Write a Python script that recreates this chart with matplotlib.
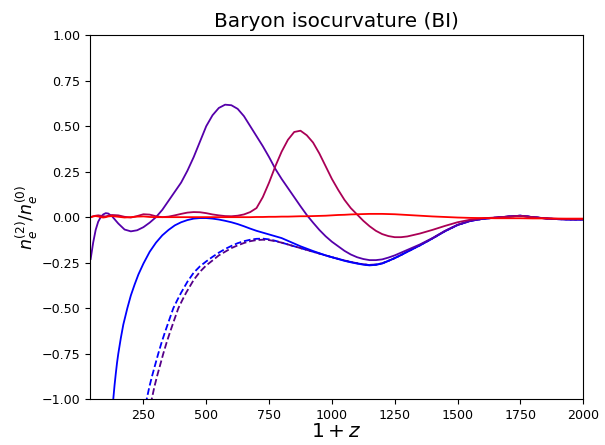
import numpy as np
import matplotlib
matplotlib.use("Agg")
import matplotlib.pyplot as plt

# ---- data ----
x_common = [40, 50, 60, 70, 80, 90, 100, 110, 125, 150, 175, 200, 225, 250, 275,
            300, 325, 350, 375, 400, 425, 450, 475, 500, 525, 550, 575, 600, 625,
            650, 675, 700, 725, 750, 775, 800, 825, 850, 875, 900, 925, 950, 975,
            1000, 1025, 1050, 1075, 1100, 1125, 1150, 1175, 1200, 1225, 1250, 1275,
            1300, 1350, 1400, 1450, 1500, 1550, 1600, 1650, 1700, 1750, 1800, 1850,
            1900, 1950, 2000]

purple_solid = [-0.23, -0.14, -0.07, -0.025, 0.0, 0.015, 0.022, 0.02, 0.005, -0.035,
                -0.068, -0.078, -0.072, -0.055, -0.03, 0.0, 0.04, 0.09, 0.14, 0.19,
                0.255, 0.33, 0.415, 0.50, 0.56, 0.60, 0.618, 0.615, 0.595, 0.555,
                0.50, 0.445, 0.39, 0.33, 0.265, 0.21, 0.16, 0.11, 0.06, 0.012, -0.03,
                -0.07, -0.105, -0.135, -0.16, -0.185, -0.205, -0.22, -0.23, -0.236,
                -0.236, -0.232, -0.222, -0.21, -0.195, -0.18, -0.15, -0.115, -0.075,
                -0.042, -0.02, -0.009, -0.003, 0.003, 0.008, 0.0, -0.007, -0.011,
                -0.013, -0.013]

crimson_solid = [0.0, 0.005, 0.008, 0.01, 0.008, 0.005, 0.004, 0.008, 0.012, 0.01,
                 0.002, -0.002, 0.006, 0.016, 0.014, 0.005, 0.0, 0.003, 0.01, 0.018,
                 0.025, 0.028, 0.027, 0.022, 0.015, 0.01, 0.006, 0.005, 0.008, 0.015,
                 0.028, 0.05, 0.11, 0.19, 0.28, 0.36, 0.425, 0.468, 0.475, 0.45,
                 0.41, 0.35, 0.28, 0.21, 0.15, 0.095, 0.05, 0.015, -0.02, -0.05,
                 -0.075, -0.093, -0.104, -0.11, -0.11, -0.106, -0.09, -0.07, -0.048,
                 -0.028, -0.014, -0.006, -0.002, 0.003, 0.007, 0.0, -0.006, -0.009,
                 -0.01, -0.01]

red_solid = [0.0, 0.004, 0.006, 0.004, 0.0, -0.002, 0.0, 0.004, 0.006, 0.002, -0.002,
             0.0, 0.003, 0.004, 0.001, 0.0, 0.0, 0.0, 0.0, 0.0, 0.0, 0.0, 0.0, 0.0,
             0.0, 0.0, 0.0, 0.0, 0.0, 0.0, 0.0, 0.001, 0.001, 0.002, 0.002, 0.003,
             0.003, 0.004, 0.005, 0.005, 0.006, 0.007, 0.008, 0.01, 0.012, 0.013,
             0.015, 0.016, 0.017, 0.018, 0.018, 0.018, 0.017, 0.016, 0.014, 0.012,
             0.008, 0.004, 0.001, -0.002, -0.004, -0.005, -0.006, -0.006, -0.006,
             -0.007, -0.007, -0.008, -0.008, -0.008]

x_blue = [125, 130, 135, 140, 145, 150, 160, 170, 186, 200, 215, 230, 250, 275, 300,
          325, 350, 375, 400, 425, 450, 475, 500, 525, 550, 575, 600, 625, 650, 675,
          700, 725, 750, 775, 800, 825, 850, 875, 900, 925, 950, 975, 1000, 1025,
          1050, 1075, 1100, 1125, 1150, 1175, 1200, 1225, 1250, 1275, 1300, 1350,
          1400, 1450, 1500, 1550, 1600, 1650, 1700, 1750, 1800, 1850, 1900, 1950, 2000]
blue_solid = [-1.08, -1.0, -0.925, -0.86, -0.80, -0.75, -0.665, -0.59, -0.50, -0.43,
              -0.37, -0.315, -0.255, -0.19, -0.14, -0.10, -0.07, -0.045, -0.028,
              -0.016, -0.008, -0.005, -0.005, -0.008, -0.013, -0.02, -0.028, -0.038,
              -0.05, -0.063, -0.075, -0.085, -0.095, -0.105, -0.115, -0.13, -0.145,
              -0.16, -0.173, -0.186, -0.198, -0.21, -0.22, -0.23, -0.24, -0.248,
              -0.255, -0.261, -0.265, -0.262, -0.255, -0.24, -0.225, -0.208, -0.19,
              -0.155, -0.117, -0.077, -0.043, -0.021, -0.009, -0.003, 0.003, 0.008,
              0.0, -0.007, -0.011, -0.013, -0.013]

x_dashed_blue = [255, 263, 274, 285, 297, 309, 322, 335, 350, 369, 385, 400, 425, 450,
                 475, 500, 525, 550, 575, 600, 625, 650, 675, 700, 725, 750, 775, 800,
                 825, 850, 875, 900, 925, 950, 975, 1000, 1025, 1050, 1075, 1100, 1125,
                 1150, 1175, 1200, 1225, 1250, 1275, 1300, 1350, 1400, 1450, 1500,
                 1550, 1600, 1650, 1700, 1750, 1800, 1850, 1900, 1950, 2000]
blue_dashed = [-1.08, -1.0, -0.93, -0.87, -0.81, -0.75, -0.69, -0.635, -0.575, -0.50,
               -0.455, -0.415, -0.355, -0.305, -0.27, -0.243, -0.218, -0.195, -0.175,
               -0.158, -0.143, -0.132, -0.124, -0.119, -0.118, -0.122, -0.13, -0.14,
               -0.15, -0.16, -0.17, -0.18, -0.19, -0.2, -0.21, -0.22, -0.229, -0.238,
               -0.246, -0.253, -0.26, -0.263, -0.261, -0.254, -0.24, -0.225, -0.208,
               -0.19, -0.155, -0.117, -0.077, -0.043, -0.021, -0.009, -0.003, 0.003,
               0.008, 0.0, -0.007, -0.011, -0.013, -0.013]

x_dashed_purple = [275, 283, 294, 305, 317, 329, 342, 355, 370, 389, 405, 420, 450,
                   475, 500, 525, 550, 575, 600, 625, 650, 675, 700, 725, 750, 775,
                   800, 825, 850, 875, 900, 925, 950, 975, 1000, 1025, 1050, 1075,
                   1100, 1125, 1150, 1175, 1200, 1225, 1250, 1275, 1300, 1350, 1400,
                   1450, 1500, 1550, 1600, 1650, 1700, 1750, 1800, 1850, 1900, 1950,
                   2000]
purple_dashed = [-1.08, -1.0, -0.93, -0.87, -0.81, -0.75, -0.69, -0.635, -0.575,
                 -0.50, -0.455, -0.415, -0.345, -0.30, -0.265, -0.238, -0.21, -0.19,
                 -0.17, -0.155, -0.142, -0.132, -0.126, -0.124, -0.126, -0.132, -0.14,
                 -0.15, -0.16, -0.17, -0.18, -0.19, -0.2, -0.21, -0.22, -0.229, -0.238,
                 -0.246, -0.253, -0.259, -0.262, -0.26, -0.253, -0.24, -0.225, -0.208,
                 -0.19, -0.155, -0.117, -0.077, -0.043, -0.021, -0.009, -0.003, 0.003,
                 0.008, 0.0, -0.007, -0.011, -0.013, -0.013]

xticks = [250, 500, 750, 1000, 1250, 1500, 1750, 2000]
yticks = [-1.00, -0.75, -0.50, -0.25, 0.00, 0.25, 0.50, 0.75, 1.00]

# ---- plot ----
fig = plt.figure(figsize=(6.05, 4.45), dpi=100)
ax = fig.add_axes([0.149, 0.103, 0.815, 0.818])

lw = 1.3
ax.plot(x_dashed_blue, blue_dashed, color="#0000ff", lw=lw, ls="--")
ax.plot(x_dashed_purple, purple_dashed, color="#550088", lw=lw, ls="--")
ax.plot(x_blue, blue_solid, color="#0000ff", lw=lw)
ax.plot(x_common, purple_solid, color="#5500aa", lw=lw)
ax.plot(x_common, crimson_solid, color="#aa0055", lw=lw)
ax.plot(x_common, red_solid, color="#ff0000", lw=lw)

ax.set_xlim(38, 2000)
ax.set_ylim(-1, 1)
ax.set_xticks(xticks)
ax.set_yticks(yticks)
ax.tick_params(labelsize=9.1)
ax.set_title("Baryon isocurvature (BI)", fontsize=14.4)
ax.set_xlabel(r"$1+z$", fontsize=14.5, labelpad=0)
ax.set_ylabel(r"$n_e^{(2)}/n_e^{(0)}$", fontsize=12.5, labelpad=1)

fig.savefig("out.png", dpi=100)
